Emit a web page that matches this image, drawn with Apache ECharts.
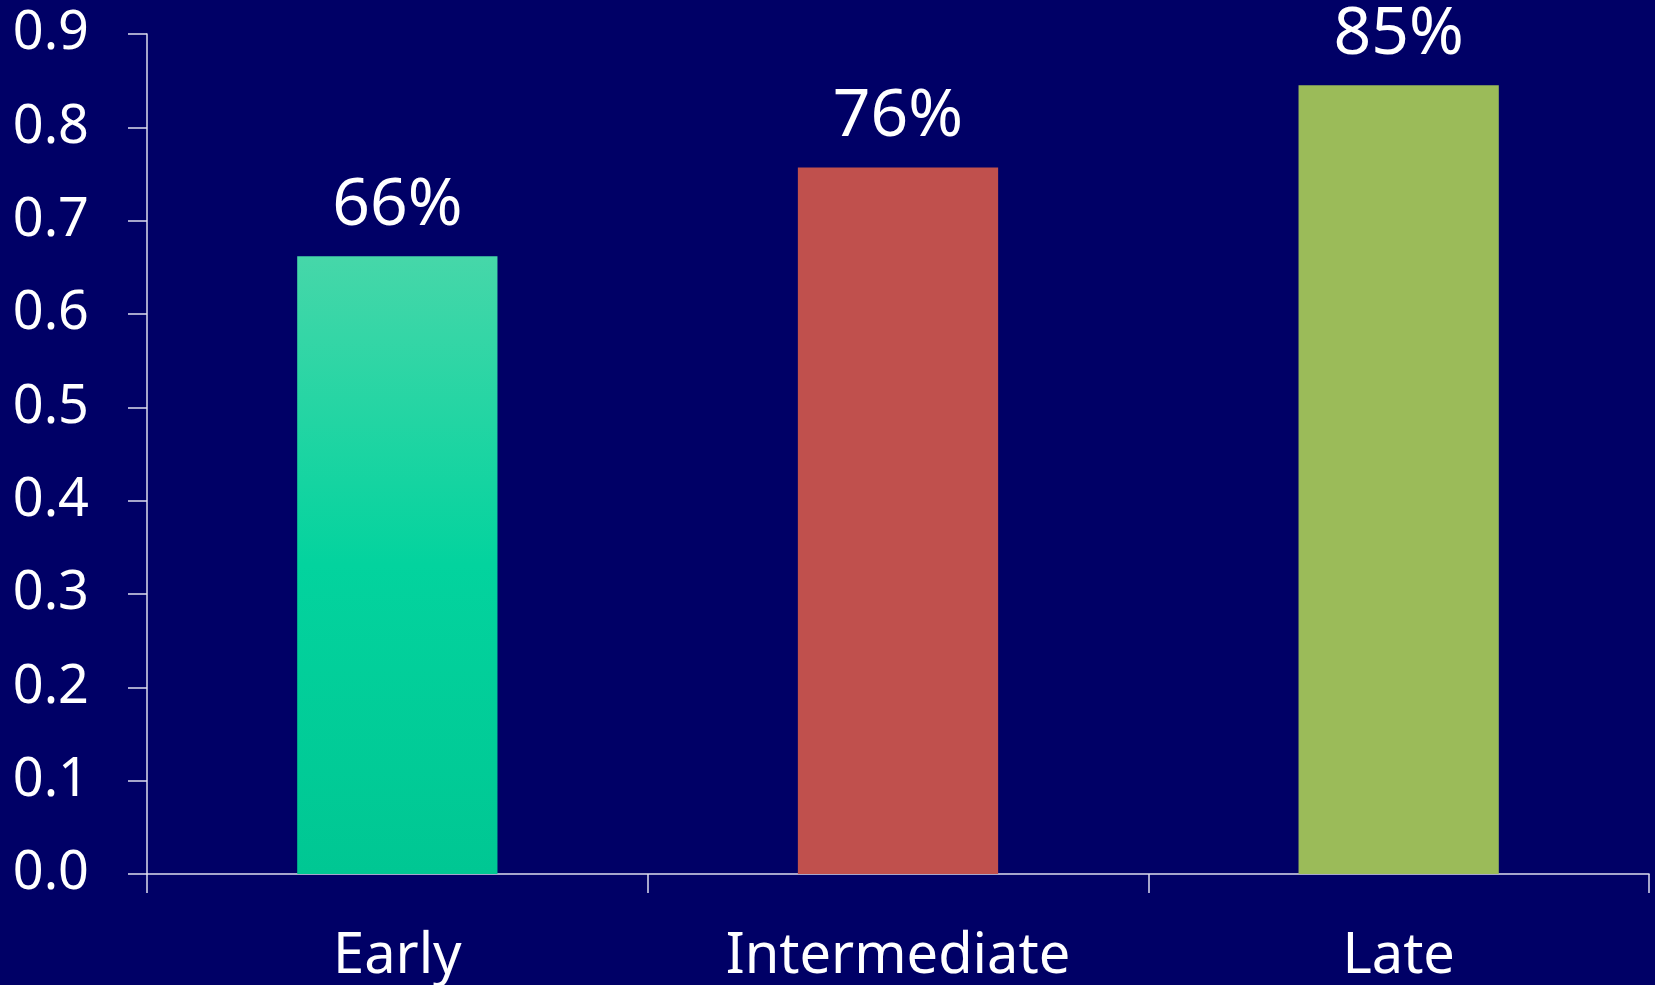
<!DOCTYPE html>
<html>
<head>
<meta charset="utf-8">
<script src="https://cdn.jsdelivr.net/npm/echarts@6/dist/echarts.min.js"></script>
<style>
html,body{margin:0;padding:0;background:#000066;}
#chart{width:1655px;height:985px;}
</style>
</head>
<body>
<div id="chart"></div>
<script>
const categories = ["Early", "Intermediate", "Late"];
const values = [0.662, 0.757, 0.845];
const valueLabels = ["66%", "76%", "85%"];
const yTicks = { min: 0, max: 0.9, interval: 0.1 };

const FONT = '"Comic Sans MS", "Noto Sans", sans-serif';
const barColors = [
  { type: 'linear', x: 0, y: 0, x2: 0, y2: 1, colorStops: [
    { offset: 0, color: '#46D7A9' }, { offset: 0.5, color: '#03D39E' }, { offset: 1, color: '#00C793' } ] },
  '#C0504D',
  '#9BBB59'
];

const chart = echarts.init(document.getElementById('chart'));
chart.setOption({
  backgroundColor: '#000066',
  animation: false,
  grid: { left: 147, right: 6, top: 34, bottom: 111, containLabel: false },
  xAxis: {
    type: 'category',
    data: categories,
    boundaryGap: true,
    axisLine: { lineStyle: { color: '#DDDDEE', width: 1.5 } },
    axisTick: { show: true, length: 19, inside: false, alignWithLabel: false, lineStyle: { color: '#DDDDEE', width: 1.5 } },
    axisLabel: { color: '#FFFFFF', fontFamily: FONT, fontSize: 56, margin: 55 }
  },
  yAxis: {
    type: 'value',
    min: yTicks.min, max: yTicks.max, interval: yTicks.interval,
    splitLine: { show: false },
    axisLine: { show: true, lineStyle: { color: '#DDDDEE', width: 1.5 } },
    axisTick: { show: true, length: 19, lineStyle: { color: '#DDDDEE', width: 1.5 } },
    axisLabel: { color: '#FFFFFF', fontFamily: FONT, fontSize: 54, margin: 58,
      formatter: v => v.toFixed(1) }
  },
  series: [{
    type: 'bar',
    barWidth: '40%',
    data: values.map((v, i) => ({ value: v, itemStyle: { color: barColors[i] } })),
    label: {
      show: true, position: 'top', distance: 17,
      color: '#FFFFFF', fontFamily: FONT, fontSize: 66,
      formatter: p => valueLabels[p.dataIndex]
    }
  }]
});
</script>
</body>
</html>
